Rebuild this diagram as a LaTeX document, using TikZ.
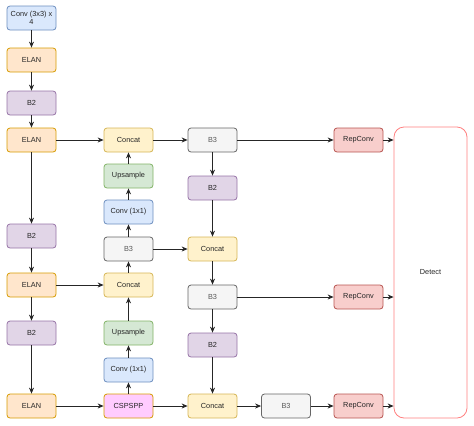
\documentclass[tikz,border=0pt]{standalone}
\usepackage{fontspec}
\setmainfont{Liberation Sans}
\usepackage{tikz}
\usetikzlibrary{positioning, arrows.meta, calc}

\definecolor{convfill}{HTML}{DAE8FC}\definecolor{convdraw}{HTML}{6C8EBF}
\definecolor{elanfill}{HTML}{FFE6CC}\definecolor{elandraw}{HTML}{D79B00}
\definecolor{bbfill}{HTML}{E1D5E7}\definecolor{bbdraw}{HTML}{9673A6}
\definecolor{catfill}{HTML}{FFF2CC}\definecolor{catdraw}{HTML}{D6B656}
\definecolor{upfill}{HTML}{D5E8D4}\definecolor{updraw}{HTML}{82B366}
\definecolor{bthreefill}{HTML}{F5F5F5}\definecolor{bthreedraw}{HTML}{666666}
\definecolor{repfill}{HTML}{F8CECC}\definecolor{repdraw}{HTML}{B85450}
\definecolor{sppfill}{HTML}{FFCCFF}\definecolor{detdraw}{HTML}{FF8080}

\tikzset{
	blk/.style={draw, rounded corners=2.25pt, line width=0.6pt, minimum width=36.75pt, minimum height=18pt, inner sep=0.75pt, font=\fontsize{5.5}{6.3}\selectfont, text=black!85},
	convblk/.style={blk, fill=convfill, draw=convdraw},
	elanblk/.style={blk, fill=elanfill, draw=elandraw},
	bbblk/.style={blk, fill=bbfill, draw=bbdraw},
	catblk/.style={blk, fill=catfill, draw=catdraw},
	upblk/.style={blk, fill=upfill, draw=updraw},
	bthreeblk/.style={blk, fill=bthreefill, draw=bthreedraw, text=black!65},
	repblk/.style={blk, fill=repfill, draw=repdraw},
	sppblk/.style={blk, fill=sppfill, draw=elandraw},
	arr/.style={draw=black!85, line width=0.6pt, -{Stealth[length=4.5pt,width=3.8pt]}}
}

\begin{document}
\begin{tikzpicture}[x=0.75pt,y=0.75pt,yscale=-1,xscale=1]
	\useasboundingbox (0,0) rectangle (474,425);
	
	%Shape: backbone column
	\node [convblk, align=center] (conv3) at (31.5,18) {Conv (3x3) x\\4};
	\node [elanblk] (elanA) at (31.5,60) {ELAN};
	\node [bbblk] (bbA) at (31.5,103) {B2};
	\node [elanblk] (elanB) at (31.5,140) {ELAN};
	\node [bbblk] (bbB) at (31.5,236) {B2};
	\node [elanblk] (elanC) at (31.5,285) {ELAN};
	\node [bbblk] (bbC) at (31.5,333) {B2};
	\node [elanblk] (elanD) at (31.5,406) {ELAN};
	%Shape: top-down column
	\node [catblk] (catA) at (128.5,140) {Concat};
	\node [upblk] (upA) at (128.5,176) {Upsample};
	\node [convblk] (cvA) at (128.5,212) {Conv (1x1)};
	\node [bthreeblk] (bthA) at (128.5,249) {B3};
	\node [catblk] (catB) at (128.5,285) {Concat};
	\node [upblk] (upB) at (128.5,333) {Upsample};
	\node [convblk] (cvB) at (128.5,370) {Conv (1x1)};
	\node [sppblk] (spp) at (128.5,406) {CSPSPP};
	%Shape: bottom-up column
	\node [bthreeblk] (bthB) at (212.5,140) {B3};
	\node [bbblk] (bbD) at (212.5,188) {B2};
	\node [catblk] (catC) at (212.5,249) {Concat};
	\node [bthreeblk] (bthC) at (212.5,297) {B3};
	\node [bbblk] (bbE) at (212.5,345) {B2};
	\node [catblk] (catD) at (212.5,406) {Concat};
	\node [bthreeblk] (bthD) at (286,406) {B3};
	%Shape: heads
	\node [repblk] (repA) at (358.5,140) {RepConv};
	\node [repblk] (repB) at (358.5,297) {RepConv};
	\node [repblk] (repC) at (358.5,406) {RepConv};
	\node [draw=detdraw, line width=0.6pt, rounded corners=7.5pt, minimum width=54.75pt, minimum height=218.25pt, font=\fontsize{5.5}{6.3}\selectfont, text=black!85] (det) at (430.5,272.5) {Detect};
	
	%Straight Lines
	\draw [arr] (conv3) -- (elanA);
	\draw [arr] (elanA) -- (bbA);
	\draw [arr] (bbA) -- (elanB);
	\draw [arr] (elanB) -- (bbB);
	\draw [arr] (bbB) -- (elanC);
	\draw [arr] (elanC) -- (bbC);
	\draw [arr] (bbC) -- (elanD);
	\draw [arr] (elanB) -- (catA);
	\draw [arr] (elanC) -- (catB);
	\draw [arr] (elanD) -- (spp);
	\draw [arr] (spp) -- (cvB);
	\draw [arr] (cvB) -- (upB);
	\draw [arr] (upB) -- (catB);
	\draw [arr] (catB) -- (bthA);
	\draw [arr] (bthA) -- (cvA);
	\draw [arr] (cvA) -- (upA);
	\draw [arr] (upA) -- (catA);
	\draw [arr] (catA) -- (bthB);
	\draw [arr] (bthB) -- (bbD);
	\draw [arr] (bbD) -- (catC);
	\draw [arr] (bthA) -- (catC);
	\draw [arr] (catC) -- (bthC);
	\draw [arr] (bthC) -- (bbE);
	\draw [arr] (bbE) -- (catD);
	\draw [arr] (spp) -- (catD);
	\draw [arr] (catD) -- (bthD);
	\draw [arr] (bthD) -- (repC);
	\draw [arr] (bthB) -- (repA);
	\draw [arr] (bthC) -- (repB);
	\draw [arr] (repA) -- (repA -| det.west);
	\draw [arr] (repB) -- (repB -| det.west);
	\draw [arr] (repC) -- (repC -| det.west);
\end{tikzpicture}
\end{document}
